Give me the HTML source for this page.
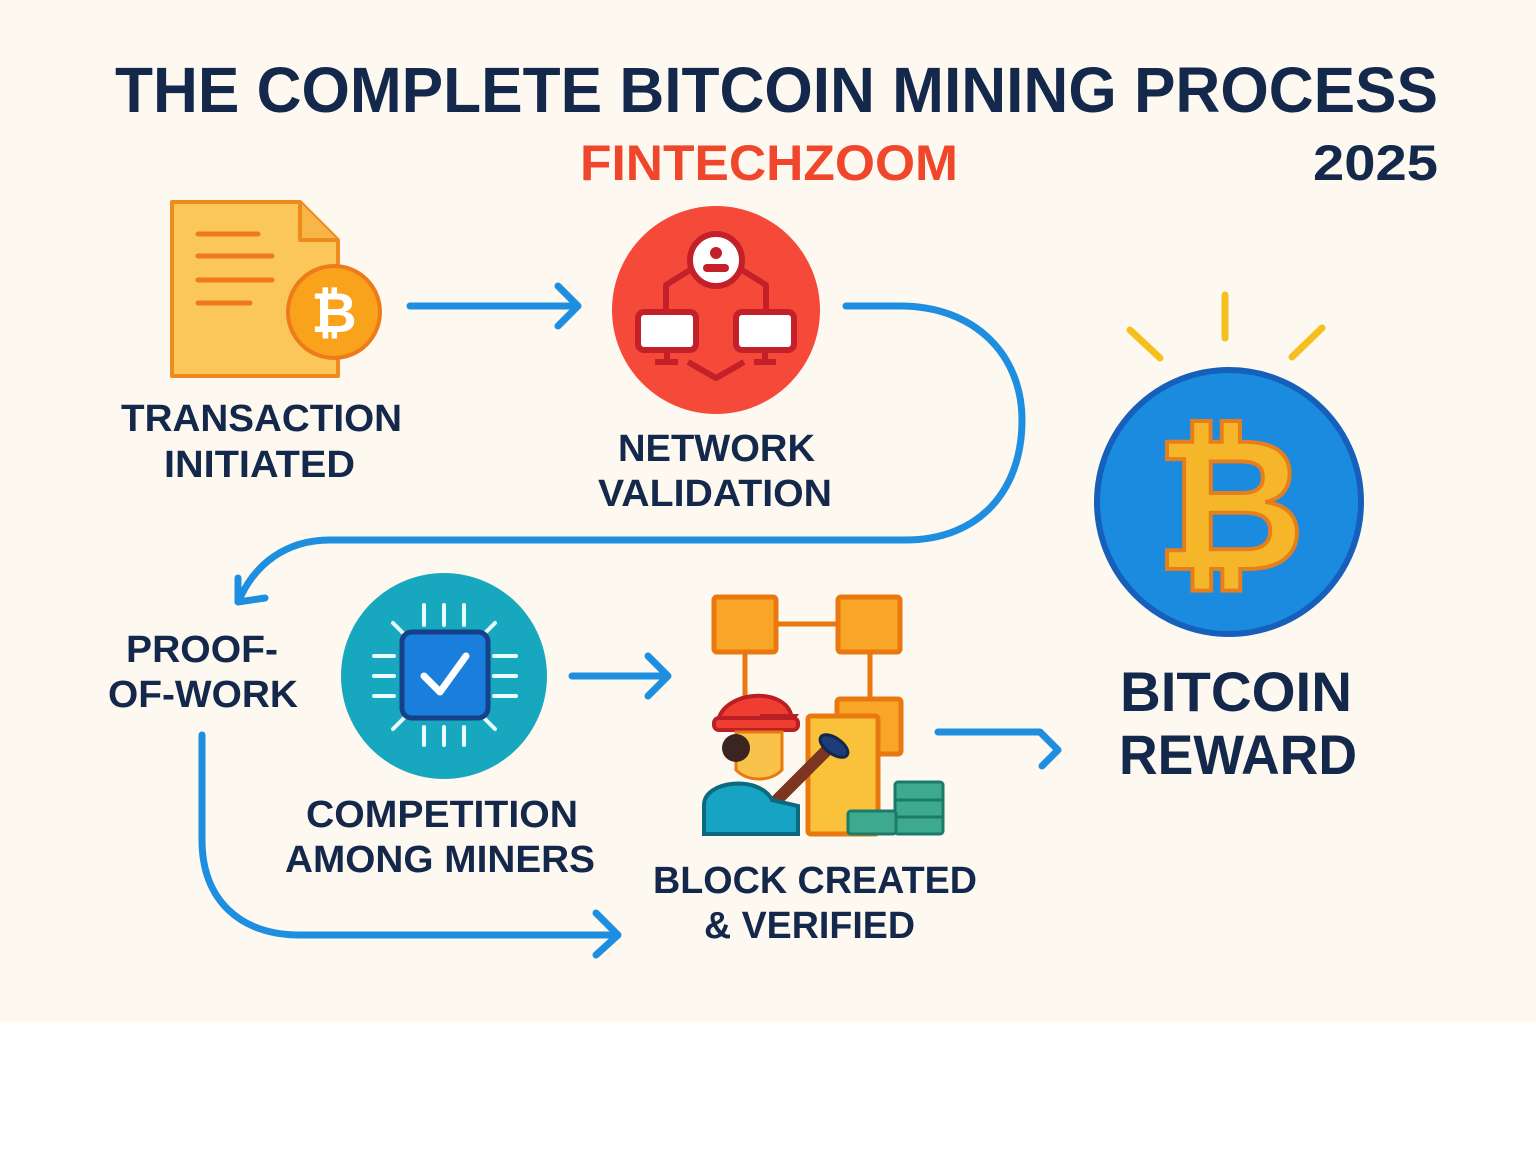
<!DOCTYPE html>
<html><head><meta charset="utf-8"><style>
html,body{margin:0;padding:0;background:#fff}
svg{display:block}
text{font-family:"Liberation Sans","DejaVu Sans",sans-serif;font-weight:bold;fill:#14284b}
</style></head><body>
<svg width="1536" height="1154" viewBox="0 0 1536 1154" xmlns="http://www.w3.org/2000/svg">
<rect x="0" y="0" width="1536" height="1022" fill="#fdf9f1"/>
<text x="115" y="112" font-size="64" textLength="1323" lengthAdjust="spacingAndGlyphs">THE COMPLETE BITCOIN MINING PROCESS</text>
<text x="580" y="180" font-size="50" textLength="378" lengthAdjust="spacingAndGlyphs" style="fill:#f0462c">FINTECHZOOM</text>
<text x="1313" y="180" font-size="50" textLength="125" lengthAdjust="spacingAndGlyphs">2025</text>

<!-- document -->
<path d="M172,202 H300 L338,240 V376 H172 Z" fill="#fbc65a" stroke="#ef8a1c" stroke-width="4" stroke-linejoin="round"/>
<path d="M300,202 V240 H338" fill="#f8b548" stroke="#ef8a1c" stroke-width="4" stroke-linejoin="round"/>
<g stroke="#ef7a1c" stroke-width="5" stroke-linecap="round">
<line x1="198" y1="234" x2="258" y2="234"/><line x1="198" y1="256" x2="272" y2="256"/><line x1="198" y1="280" x2="272" y2="280"/><line x1="198" y1="303" x2="250" y2="303"/></g>
<circle cx="334" cy="312" r="46" fill="#f9a21b" stroke="#ef7a1c" stroke-width="4"/>
<text x="334" y="332" font-size="56" text-anchor="middle" style="fill:#fff">₿</text>

<!-- network -->
<circle cx="716" cy="310" r="104" fill="#f54a3a"/>
<g stroke="#c3202a" stroke-width="6" fill="none" stroke-linejoin="round">
<path d="M690,270 L666,285 V312 M742,270 L766,285 V312"/>
<path d="M688,362 L716,378 L744,362"/>
<rect x="638" y="312" width="58" height="38" rx="6" fill="#fff"/>
<rect x="736" y="312" width="58" height="38" rx="6" fill="#fff"/>
<line x1="667" y1="350" x2="667" y2="362"/><line x1="655" y1="362" x2="678" y2="362"/>
<line x1="765" y1="350" x2="765" y2="362"/><line x1="754" y1="362" x2="776" y2="362"/>
<circle cx="716" cy="260" r="26" fill="#fff"/>
</g>
<circle cx="716" cy="253" r="6" fill="#c3202a"/><rect x="703" y="264" width="26" height="8" rx="4" fill="#c3202a"/>

<text x="121" y="431" font-size="38" textLength="281" lengthAdjust="spacingAndGlyphs">TRANSACTION</text>
<text x="164" y="477" font-size="38" textLength="191" lengthAdjust="spacingAndGlyphs">INITIATED</text>
<text x="618" y="461" font-size="38" textLength="197" lengthAdjust="spacingAndGlyphs">NETWORK</text>
<text x="598" y="506" font-size="38" textLength="234" lengthAdjust="spacingAndGlyphs">VALIDATION</text>

<!-- arrows -->
<g stroke="#1e8ee0" stroke-width="7" fill="none" stroke-linecap="round" stroke-linejoin="round">
<line x1="410" y1="306" x2="576" y2="306"/><path d="M558,286 L578,306 L558,326"/>
<path d="M846,306 H900 C975,306 1022,355 1022,420 C1022,490 980,540 905,540 H330 C285,540 255,565 240,598"/>
<path d="M238,578 L238,602 L265,598"/>
<line x1="572" y1="676" x2="666" y2="676"/><path d="M648,656 L668,676 L648,696"/>
<path d="M202,735 V840 C202,900 240,935 300,935 H614"/><path d="M596,913 L618,935 L596,955"/>
<path d="M938,732 H1040 L1058,750 L1042,766"/>
</g>

<!-- bitcoin reward -->
<g stroke="#f5c01e" stroke-width="7" stroke-linecap="round">
<line x1="1225" y1="295" x2="1225" y2="338"/><line x1="1130" y1="330" x2="1160" y2="358"/><line x1="1322" y1="328" x2="1292" y2="357"/></g>
<circle cx="1229" cy="502" r="132" fill="#1b8be0" stroke="#1660bc" stroke-width="6"/>
<text x="1230" y="569" font-size="185" text-anchor="middle" style="fill:#f5b62a;stroke:#e67e1c;stroke-width:4">₿</text>
<text x="1120" y="711" font-size="56" textLength="232" lengthAdjust="spacingAndGlyphs">BITCOIN</text>
<text x="1119" y="774" font-size="56" textLength="238" lengthAdjust="spacingAndGlyphs">REWARD</text>

<!-- CPU -->
<circle cx="444" cy="676" r="103" fill="#17a8bf"/>
<g stroke="#e8fbff" stroke-width="4" stroke-linecap="round">
<line x1="424" y1="605" x2="424" y2="625"/><line x1="444" y1="605" x2="444" y2="625"/><line x1="464" y1="605" x2="464" y2="625"/>
<line x1="424" y1="727" x2="424" y2="745"/><line x1="444" y1="727" x2="444" y2="745"/><line x1="464" y1="727" x2="464" y2="745"/>
<line x1="374" y1="656" x2="394" y2="656"/><line x1="374" y1="676" x2="394" y2="676"/><line x1="374" y1="696" x2="394" y2="696"/>
<line x1="494" y1="656" x2="516" y2="656"/><line x1="494" y1="676" x2="516" y2="676"/><line x1="494" y1="696" x2="516" y2="696"/>
<line x1="393" y1="623" x2="405" y2="635"/><line x1="495" y1="623" x2="483" y2="635"/><line x1="393" y1="729" x2="405" y2="717"/><line x1="495" y1="729" x2="483" y2="717"/>
</g>
<rect x="402" y="632" width="86" height="86" rx="10" fill="#1a7fdc" stroke="#16408a" stroke-width="5"/>
<path d="M424,676 L440,692 L466,656" stroke="#fff" stroke-width="7" fill="none" stroke-linecap="round" stroke-linejoin="round"/>

<text x="126" y="662" font-size="38" textLength="152" lengthAdjust="spacingAndGlyphs">PROOF-</text>
<text x="108" y="707" font-size="38" textLength="190" lengthAdjust="spacingAndGlyphs">OF-WORK</text>
<text x="306" y="827" font-size="38" textLength="272" lengthAdjust="spacingAndGlyphs">COMPETITION</text>
<text x="285" y="872" font-size="38" textLength="310" lengthAdjust="spacingAndGlyphs">AMONG MINERS</text>
<text x="653" y="893" font-size="38" textLength="324" lengthAdjust="spacingAndGlyphs">BLOCK CREATED</text>
<text x="704" y="938" font-size="38" textLength="211" lengthAdjust="spacingAndGlyphs">&amp; VERIFIED</text>

<!-- block/miner -->
<g stroke="#e8780f" stroke-width="5" stroke-linejoin="round">
<line x1="776" y1="624" x2="838" y2="624"/><line x1="745" y1="652" x2="745" y2="700"/><line x1="870" y1="652" x2="870" y2="700"/>
<rect x="714" y="597" width="62" height="55" rx="3" fill="#f9a628"/>
<rect x="838" y="597" width="62" height="55" rx="3" fill="#f9a628"/>
<rect x="837" y="699" width="64" height="55" rx="3" fill="#f9a628"/>
<rect x="808" y="716" width="70" height="118" rx="3" fill="#f9c23a"/>
</g>
<path d="M718,722 C722,690 790,685 792,720 L795,716 H760" fill="#ef3d32" stroke="#b82026" stroke-width="4"/>
<rect x="714" y="718" width="84" height="12" rx="5" fill="#ef3d32" stroke="#b82026" stroke-width="4"/>
<path d="M736,732 H782 V770 C770,782 748,782 736,770 Z" fill="#f9c24a" stroke="#e8780f" stroke-width="3"/>
<circle cx="736" cy="748" r="14" fill="#3a2520"/>
<path d="M772,805 L832,745" stroke="#7b3520" stroke-width="12" stroke-linecap="round"/>
<ellipse cx="834" cy="746" rx="16" ry="8" transform="rotate(35 834 746)" fill="#1c3d7a" stroke="#12284a" stroke-width="3"/>
<path d="M704,834 V805 C704,780 760,775 772,800 L798,806 V834 Z" fill="#17a3c4" stroke="#0d6a7e" stroke-width="4"/>
<g fill="#3daa90" stroke="#1c7a6a" stroke-width="3">
<rect x="895" y="782" width="48" height="52" rx="3"/><rect x="848" y="811" width="48" height="23" rx="3"/>
<line x1="895" y1="800" x2="943" y2="800"/><line x1="895" y1="817" x2="943" y2="817"/></g>
</svg>
</body></html>
